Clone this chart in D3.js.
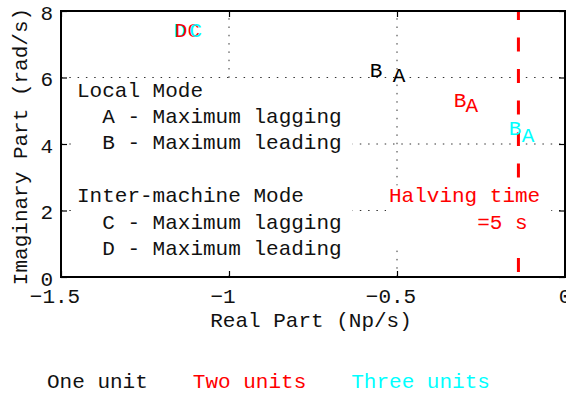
<!DOCTYPE html>
<html>
<head>
<meta charset="utf-8">
<script src="https://cdn.jsdelivr.net/npm/d3@7"></script>
<style>
  body { margin: 0; background: #fff; }
  svg text { font-family: "Liberation Mono", "DejaVu Sans Mono", monospace; font-size: 21px; white-space: pre; }
</style>
</head>
<body>
<div id="chart"></div>
<script>
// axis ticks
const xTicks = [-1.5, -1, -0.5, 0];
const yTicks = [0, 2, 4, 6, 8];
const xGrid = [-1, -0.5];
const yGrid = [2, 4, 6];

// series
const seriesNames = ["One unit", "Two units", "Three units"];
const seriesColors = ["#000000", "#ff0000", "#00ffff"];

// mode labels per series (letter, real part, imaginary part)
const oneUnitLetters = ["B", "A"];
const oneUnitReal = [-0.5625, -0.494];
const oneUnitImag = [6.23, 6.09];

const twoUnitLetters = ["B", "A", "D", "C"];
const twoUnitReal = [-0.3125, -0.277, -1.143, -1.105];
const twoUnitImag = [5.31, 5.17, 7.44, 7.44];

const threeUnitLetters = ["B", "A", "D", "C"];
const threeUnitReal = [-0.149, -0.110, -1.147, -1.099];
const threeUnitImag = [4.48, 4.27, 7.44, 7.44];

// halving time line
const halvingTime = 5;
const halvingLines = ["Halving time", "       =5 s"];
const modeNotes = [
  "Local Mode",
  "  A - Maximum lagging",
  "  B - Maximum leading",
  "",
  "Inter-machine Mode",
  "  C - Maximum lagging",
  "  D - Maximum leading"
];

const width = 566, height = 393;
const margin = {left: 61, right: 1, top: 11, bottom: 116};

const svg = d3.select("#chart").append("svg")
  .attr("width", width).attr("height", height)
  .attr("viewBox", `0 0 ${width} ${height}`);

const x = d3.scaleLinear().domain([-1.5, 0]).range([margin.left, width - margin.right]);
const y = d3.scaleLinear().domain([0, 8]).range([height - margin.bottom, margin.top]);

const fmt = d => d === 0 ? "0" : String(d).replace("-", "\u2212");

// grid
svg.append("g").selectAll("line").data(xGrid).join("line")
  .attr("x1", d => x(d)).attr("x2", d => x(d))
  .attr("y1", y(0)).attr("y2", y(8))
  .attr("stroke", "#333").attr("stroke-width", 1).attr("stroke-dasharray", "1.5,6.8");
svg.append("g").selectAll("line").data(yGrid).join("line")
  .attr("y1", d => y(d)).attr("y2", d => y(d))
  .attr("x1", x(-1.5)).attr("x2", x(0))
  .attr("stroke", "#333").attr("stroke-width", 1).attr("stroke-dasharray", "1.5,6.8");

// halving time line
const sigma = -Math.log(2) / halvingTime;
svg.append("line")
  .attr("x1", x(sigma)).attr("x2", x(sigma))
  .attr("y1", y(8)).attr("y2", y(0))
  .attr("stroke", "#ff0000").attr("stroke-width", 3)
  .attr("stroke-dasharray", "14,17.5").attr("stroke-dashoffset", 5);

// text blocks with opaque background
function textBlock(lines, x0, y0, color, step) {
  const g = svg.append("g");
  const rect = g.append("rect").attr("fill", "#fff");
  const t = g.append("text").attr("fill", color);
  lines.forEach((s, i) => {
    t.append("tspan").attr("x", x0).attr("y", y0 + i * step).text(s === "" ? " " : s);
  });
  const b = t.node().getBBox();
  rect.attr("x", b.x - 3).attr("y", b.y + 1)
      .attr("width", b.width + 14).attr("height", b.height + 11);
  return g;
}
textBlock(modeNotes, 77, 96.5, "#111", 26.4);
textBlock(halvingLines, 389, 201.5, "#ff0000", 27.5);

// ticks
const axes = svg.append("g");
axes.append("g").attr("transform", `translate(0,${y(0)})`)
  .call(d3.axisBottom(x).tickValues(xTicks).tickSize(-6).tickFormat(""));
axes.append("g").attr("transform", `translate(0,${y(8)})`)
  .call(d3.axisTop(x).tickValues(xTicks).tickSize(-6).tickFormat(""));
axes.append("g").attr("transform", `translate(${x(-1.5)},0)`)
  .call(d3.axisLeft(y).tickValues(yTicks).tickSize(-6).tickFormat(""));
axes.append("g").attr("transform", `translate(${x(0)},0)`)
  .call(d3.axisRight(y).tickValues(yTicks).tickSize(-6).tickFormat(""));
axes.selectAll(".domain").remove();
axes.selectAll(".tick line").attr("stroke", "#000").attr("stroke-width", 1.2);

// border
svg.append("rect")
  .attr("x", x(-1.5)).attr("y", y(8))
  .attr("width", x(0) - x(-1.5)).attr("height", y(0) - y(8))
  .attr("fill", "none").attr("stroke", "#000").attr("stroke-width", 2);

// tick labels
svg.append("g").selectAll("text").data(xTicks).join("text")
  .attr("x", d => x(d) + (d < 0 ? -6 : 0)).attr("y", 302.5)
  .attr("text-anchor", "middle").attr("fill", "#111").text(fmt);
svg.append("g").selectAll("text").data(yTicks).join("text")
  .attr("x", 53).attr("y", d => y(d) + 8.5)
  .attr("text-anchor", "end").attr("fill", "#111").text(fmt);

// axis titles
svg.append("text").attr("x", 311).attr("y", 326.5).attr("text-anchor", "middle")
  .attr("fill", "#111").text("Real Part (Np/s)");
svg.append("text").attr("transform", "translate(26.5,146.5) rotate(-90)")
  .attr("text-anchor", "middle").attr("fill", "#111").text("Imaginary Part (rad/s)");

// mode labels
const seriesData = [
  [oneUnitLetters, oneUnitReal, oneUnitImag],
  [twoUnitLetters, twoUnitReal, twoUnitImag],
  [threeUnitLetters, threeUnitReal, threeUnitImag]
];
const pts = [];
seriesData.forEach(([L, R, I], s) => L.forEach((l, i) => pts.push({l, re: R[i], im: I[i], s})));
pts.sort((a, b) => a.re - b.re);
svg.append("g").selectAll("text").data(pts).join("text")
  .attr("x", d => x(d.re)).attr("y", d => y(d.im) + 7)
  .attr("text-anchor", "middle")
  .attr("fill", d => seriesColors[d.s])
  .text(d => d.l);

// legend
let lx = 47;
const leg = svg.append("g");
seriesNames.forEach((n, i) => {
  const t = leg.append("text").attr("x", lx).attr("y", 387.5)
    .attr("fill", i === 0 ? "#111" : seriesColors[i]).text(n);
  lx += t.node().getComputedTextLength() + 45;
});
</script>
</body>
</html>
